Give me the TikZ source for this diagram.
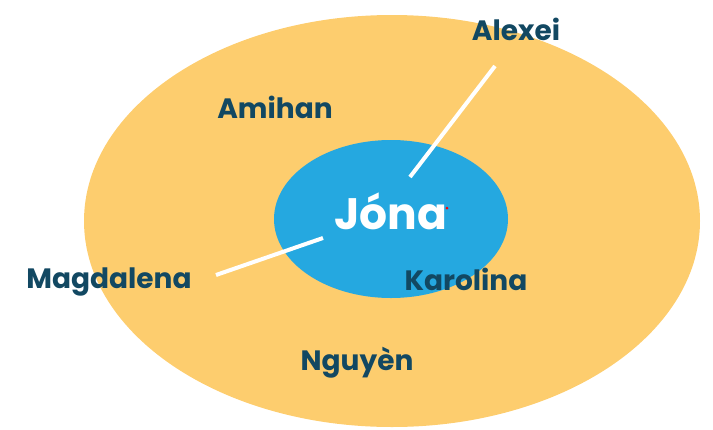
\documentclass[tikz,border=0pt]{standalone}
\usepackage{fontspec}
\setmainfont{Poppins}
\usetikzlibrary{positioning}
\definecolor{ringorange}{RGB}{253, 205, 110}
\definecolor{coreblue}{RGB}{37, 168, 224}
\definecolor{inkteal}{RGB}{18, 72, 98}
\tikzset{
    ring/.style  ={fill=ringorange, draw=none},
    core/.style  ={fill=coreblue, draw=none},
    person/.style={text=inkteal, inner sep=0pt, anchor=base,
                   font=\bfseries\fontsize{28}{30}\selectfont},
    self/.style  ={text=white, inner sep=0pt, anchor=base,
                   font=\bfseries\fontsize{44}{46}\selectfont},
    spoke/.style ={draw=white, line width=4pt}
}

\begin{document}
\begin{tikzpicture}[x=1pt, y=-1pt]
  \useasboundingbox (0,0) rectangle (713,429);

  % circles
  \fill[ring] (392,221) ellipse [x radius=308, y radius=206];
  \fill[core] (391,219) ellipse [x radius=117, y radius=79];

  % spokes
  \coordinate (alexeiend) at (495,66);
  \coordinate (alexeiin)  at (410,177);
  \coordinate (magdaend)  at (216,275);
  \coordinate (magdain)   at (323,238);
  \draw[spoke] (alexeiend) -- (alexeiin);
  \draw[spoke] (magdaend) -- (magdain);

  % names
  \node[self]   (jona)      at (391,229) {Jóna};
  \fill[red] (447,208) circle (1.5);
  \node[person] (alexei)    at (516,40)  {Alexei};
  \node[person] (amihan)    at (275,118) {Amihan};
  \node[person] (magdalena) at (109,288) {Magdalena};
  \node[person] (karolina)  at (466,290) {Karolina};
  \node[person] (nguyen)    at (357,370) {Nguyèn};
\end{tikzpicture}
\end{document}
